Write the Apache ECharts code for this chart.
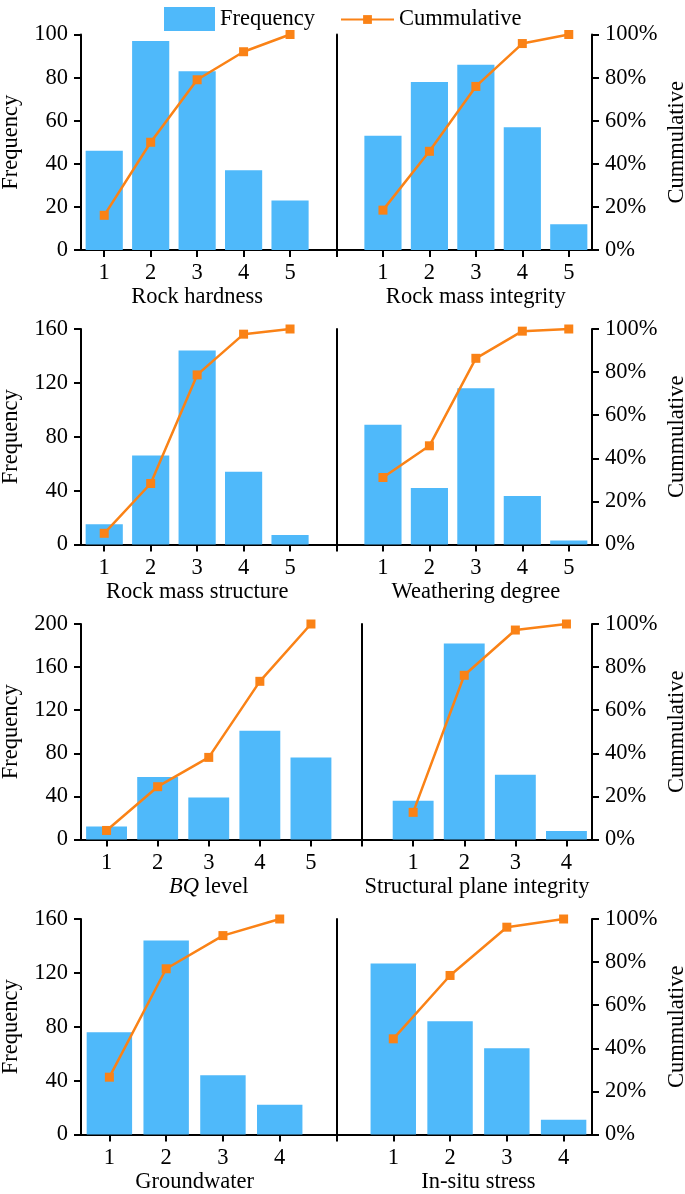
<!DOCTYPE html>
<html>
<head>
<meta charset="utf-8">
<script src="https://cdn.jsdelivr.net/npm/echarts@6/dist/echarts.min.js"></script>
<style>
html,body{margin:0;padding:0;background:#fff;}
#chart{width:685px;height:1194px;}
</style>
</head>
<body>
<div id="chart"></div>
<script>
// ---- data ----
const cats5 = [1, 2, 3, 4, 5];
const cats4 = [1, 2, 3, 4];

const hardnessFreq = [46, 97, 83, 37, 23];
const hardnessCum = [16.1, 50.0, 79.0, 92.0, 100];
const integrityFreq = [53, 78, 86, 57, 12];
const integrityCum = [18.5, 45.8, 75.9, 95.8, 100];
const structureFreq = [15, 66, 144, 54, 7];
const structureCum = [5.2, 28.3, 78.7, 97.6, 100];
const weatheringFreq = [89, 42, 116, 36, 3];
const weatheringCum = [31.1, 45.8, 86.4, 99.0, 100];
const bqFreq = [12, 58, 39, 101, 76];
const bqCum = [4.2, 24.5, 38.1, 73.4, 100];
const planeFreq = [36, 182, 60, 8];
const planeCum = [12.6, 76.2, 97.2, 100];
const groundwaterFreq = [76, 144, 44, 22];
const groundwaterCum = [26.6, 76.9, 92.3, 100];
const stressFreq = [127, 84, 64, 11];
const stressCum = [44.4, 73.8, 96.2, 100];

const freqTicks = [[0, 100, 20], [0, 160, 40], [0, 200, 40], [0, 160, 40]];
const pctTicks = [0, 100, 20];

const rows = [
  [{name: 'Rock hardness', cats: cats5, freq: hardnessFreq, cum: hardnessCum},
   {name: 'Rock mass integrity', cats: cats5, freq: integrityFreq, cum: integrityCum}],
  [{name: 'Rock mass structure', cats: cats5, freq: structureFreq, cum: structureCum},
   {name: 'Weathering degree', cats: cats5, freq: weatheringFreq, cum: weatheringCum}],
  [{name: '{i|BQ} level', cats: cats5, freq: bqFreq, cum: bqCum},
   {name: 'Structural plane integrity', cats: cats4, freq: planeFreq, cum: planeCum, centerOnPanel: true}],
  [{name: 'Groundwater', cats: cats4, freq: groundwaterFreq, cum: groundwaterCum},
   {name: 'In-situ stress', cats: cats4, freq: stressFreq, cum: stressCum}]
];

// ---- style / layout ----
const FONT = "'Liberation Serif','Times New Roman',serif";
const FS = 22.5;
const BAR = '#4FB9FA';
const LINE = '#FA8216';
const PL = 81, PR = 592;
const rowTops = [34.5, 329, 624, 919];
const rowH = 215.5;

const grid = [], xAxis = [], yAxis = [], series = [];
const axisLineStyle = {show: true, lineStyle: {color: '#000', width: 2}};
const tickStyle = {show: true, length: 7, lineStyle: {color: '#000', width: 2}};
const labelStyle = {color: '#000', fontSize: FS, fontFamily: FONT};

rows.forEach((row, r) => {
  const [L, R] = row;
  const nL = L.cats.length, nR = R.cats.length;
  const units = nL + nR + 1;
  const unit = (PR - PL) / units;
  const fr = freqTicks[r];
  const panels = [
    {p: L, left: PL, min: 0.5, max: nL + 1, side: 'L'},
    {p: R, left: PL + (nL + 0.5) * unit, min: 0, max: nR + 0.5, side: 'R'}
  ];
  panels.forEach((pn) => {
    const gi = grid.length;
    const width = (pn.max - pn.min) * unit;
    grid.push({left: pn.left, top: rowTops[r], width: width, height: rowH,
      containLabel: false, outerBoundsMode: 'none'});
    const mid = (pn.min + pn.max) / 2;
    const want = pn.p.centerOnPanel ? mid : (pn.p.cats.length + 1) / 2;
    const shift = (want - mid) * unit;
    const pad = shift < 0 ? [0, -2 * shift, 0, 0] : [0, 0, 0, 2 * shift];
    xAxis.push({
      type: 'value', gridIndex: gi, min: pn.min, max: pn.max,
      axisLine: axisLineStyle,
      axisTick: Object.assign({}, tickStyle, {customValues: pn.side === 'R' ? [0].concat(pn.p.cats) : pn.p.cats}),
      axisLabel: Object.assign({}, labelStyle, {margin: 12, customValues: pn.p.cats}),
      splitLine: {show: false},
      name: pn.p.name, nameLocation: 'middle', nameGap: 35,
      nameTextStyle: {color: '#000', fontSize: FS, fontFamily: FONT, padding: pad,
        rich: {i: {fontStyle: 'italic', fontSize: FS, fontFamily: FONT, color: '#000'}}}
    });
    const yf = yAxis.length;
    if (pn.side === 'L') {
      yAxis.push({
        type: 'value', gridIndex: gi, position: 'left', min: fr[0], max: fr[1], interval: fr[2],
        axisLine: axisLineStyle, axisTick: tickStyle,
        axisLabel: Object.assign({}, labelStyle, {margin: 13}),
        splitLine: {show: false},
        name: 'Frequency', nameLocation: 'middle', nameRotate: 90, nameGap: 58,
        nameTextStyle: {color: '#000', fontSize: FS, fontFamily: FONT}
      });
      yAxis.push({type: 'value', gridIndex: gi, position: 'right', min: pctTicks[0], max: pctTicks[1], show: false});
    } else {
      yAxis.push({
        type: 'value', gridIndex: gi, position: 'left', min: fr[0], max: fr[1], interval: fr[2],
        axisLine: axisLineStyle, axisTick: {show: false}, axisLabel: {show: false}, splitLine: {show: false}
      });
      yAxis.push({
        type: 'value', gridIndex: gi, position: 'right', min: pctTicks[0], max: pctTicks[1], interval: pctTicks[2],
        axisLine: axisLineStyle, axisTick: tickStyle,
        axisLabel: Object.assign({}, labelStyle, {margin: 13, formatter: '{value}%'}),
        splitLine: {show: false},
        name: 'Cummulative', nameLocation: 'middle', nameRotate: 90, nameGap: 74,
        nameTextStyle: {color: '#000', fontSize: FS, fontFamily: FONT}
      });
    }
    series.push({
      type: 'bar', name: 'Frequency', xAxisIndex: gi, yAxisIndex: yf,
      barWidth: 0.8 * unit,
      itemStyle: {color: BAR},
      data: pn.p.cats.map((c, k) => [c, pn.p.freq[k]])
    });
    series.push({
      type: 'line', name: 'Cummulative', xAxisIndex: gi, yAxisIndex: yf + 1,
      symbol: 'rect', symbolSize: 9, z: 5,
      lineStyle: {color: LINE, width: 2.5}, itemStyle: {color: LINE},
      data: pn.p.cats.map((c, k) => [c, pn.p.cum[k]])
    });
  });
});

const legendText = {color: '#000', fontSize: FS, fontFamily: FONT};
const chart = echarts.init(document.getElementById('chart'), null, {renderer: 'canvas'});
chart.setOption({
  animation: false,
  backgroundColor: '#fff',
  legend: [
    {data: [{name: 'Frequency', icon: 'rect'}], left: 159, top: 2, itemWidth: 51, itemHeight: 24, textStyle: legendText},
    {data: ['Cummulative'], left: 335, top: 3, itemWidth: 53, itemHeight: 11, textStyle: legendText}
  ],
  grid: grid, xAxis: xAxis, yAxis: yAxis, series: series
});
</script>
</body>
</html>
